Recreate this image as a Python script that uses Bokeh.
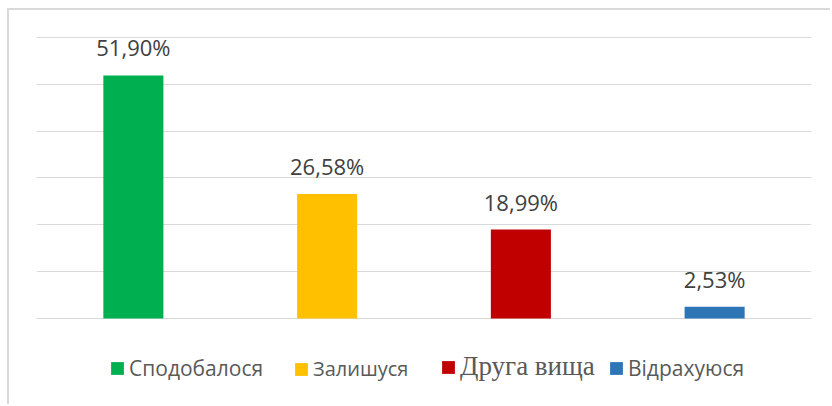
from bokeh.plotting import figure
from bokeh.models import ColumnDataSource, FactorRange, FixedTicker, Legend, LegendItem
from bokeh.core.properties import value
from bokeh.embed import file_html
from bokeh.resources import INLINE

categories = ["Сподобалося", "Залишуся", "Друга вища", "Відрахуюся"]
values = [51.90, 26.58, 18.99, 2.53]
labels = ["51,90%", "26,58%", "18,99%", "2,53%"]
colors = ["#00B050", "#FFC000", "#C00000", "#2E75B6"]
grid_ticks = [0, 10, 20, 30, 40, 50, 60]

source = ColumnDataSource(dict(cat=categories, val=values, label=labels, color=colors))

p = figure(
    width=823, height=396,
    x_range=FactorRange(*categories, range_padding=0),
    y_range=(-18.79, 64.27),
    x_axis_location=None, y_axis_location=None,
    toolbar_location=None, output_backend="svg",
    min_border_left=27, min_border_right=21, min_border_top=7, min_border_bottom=0,
)
p.styles = {"border-left": "2px solid #d9d9d9", "border-top": "2px solid #d9d9d9",
            "margin-left": "7px", "margin-top": "8px"}
p.outline_line_color = None
p.background_fill_color = "white"
p.border_fill_color = "white"
p.xgrid.visible = False
p.ygrid.ticker = FixedTicker(ticks=grid_ticks)
p.ygrid.grid_line_color = "#d9d9d9"
p.ygrid.grid_line_width = 1

bars = p.vbar(x="cat", top="val", bottom=0, width=0.31, color="color", source=source, line_color=None)

p.text(x="cat", y="val", text="label", source=source, text_align="center",
       text_baseline="alphabetic", y_offset=-28, text_font=value("Open Sans"),
       text_font_size="22px", text_color="#404040")

leg_x = [73, 257, 404, 572]
fonts = ["Open Sans", "Open Sans", "Liberation Serif", "Open Sans"]
sizes = ["21px", "20px", "27px", "21px"]
for i, cat in enumerate(categories):
    leg = Legend(
        items=[LegendItem(label=cat, renderers=[bars], index=i)],
        location=(leg_x[i], 24), orientation="horizontal",
        padding=0, margin=0, border_line_color=None, background_fill_alpha=0,
        glyph_width=16, glyph_height=16, label_standoff=4, label_height=24,
        label_text_font=fonts[i], label_text_font_size=sizes[i],
        label_text_color="#595959",
    )
    p.add_layout(leg, "center")

open("out.html", "w").write(file_html(p, INLINE))
